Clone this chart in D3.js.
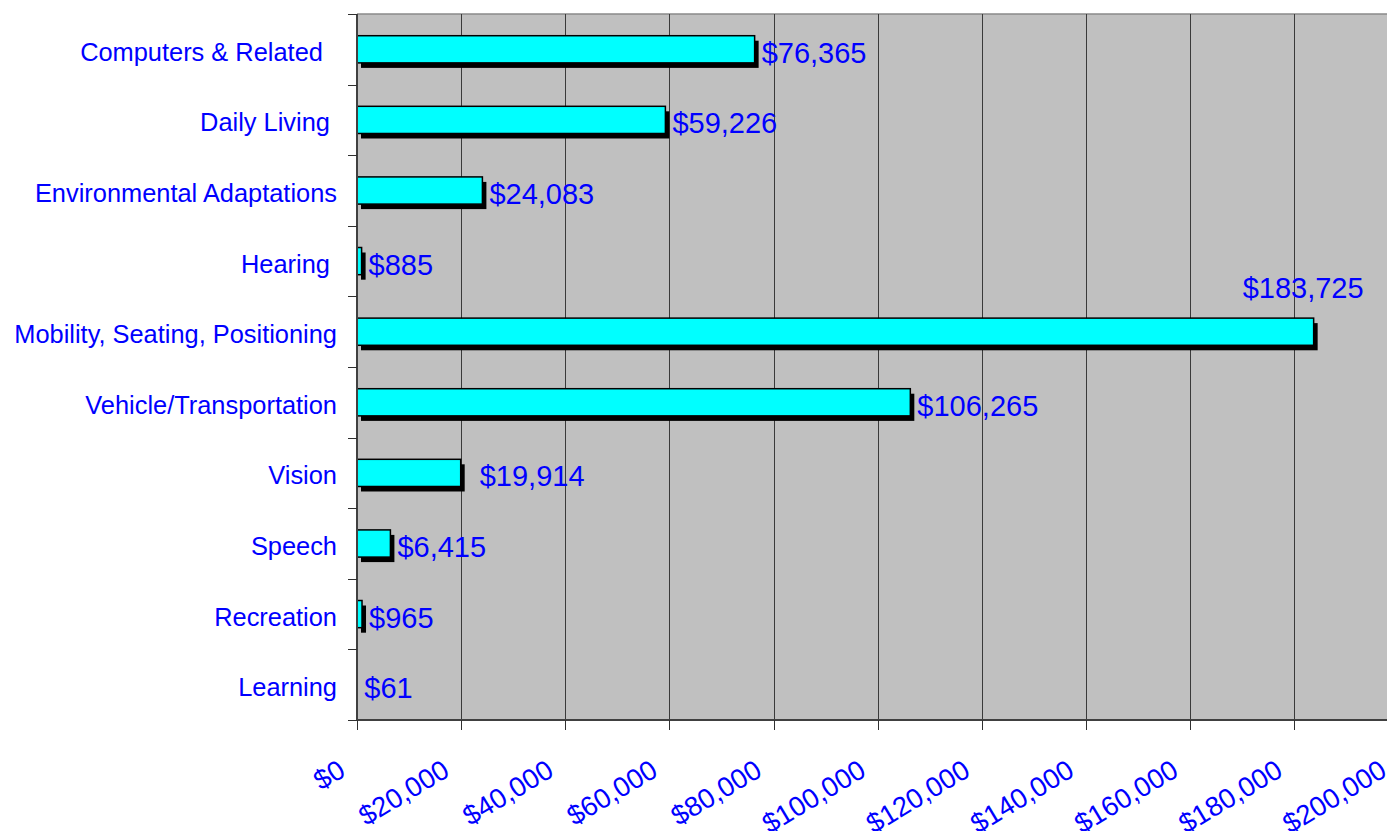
<!DOCTYPE html>
<html>
<head>
<meta charset="utf-8">
<script src="https://cdn.jsdelivr.net/npm/d3@7"></script>
<style>
  html, body { margin: 0; padding: 0; background: #ffffff; }
  svg { display: block; }
  text { font-family: "Liberation Sans", Arial, sans-serif; white-space: pre; }
</style>
</head>
<body>
<svg id="chart" width="1387" height="831"></svg>
<script>
// Category names (trailing spaces kept as typed in the source sheet)
const categories = [
  "Computers & Related  ",
  "Daily Living ",
  "Environmental Adaptations",
  "Hearing ",
  "Mobility, Seating, Positioning",
  "Vehicle/Transportation",
  "Vision",
  "Speech",
  "Recreation",
  "Learning"
];

// Spending per category, in dollars
const values = [76365, 59226, 24083, 885, 183725, 106265, 19914, 6415, 965, 61];

// Horizontal axis ticks
const tickValues = [0, 20000, 40000, 60000, 80000, 100000, 120000, 140000, 160000, 180000, 200000];

const svg = d3.select("#chart");

const plot = { left: 357, top: 14, bottom: 720, right: 1398.4 };
const blue = "#0000ff";
const money = v => "$" + d3.format(",")(v);

const x = d3.scaleLinear().domain([0, 200000]).range([plot.left, plot.right]);
const y = d3.scaleBand().domain(categories).range([plot.top, plot.bottom]).paddingInner(0).paddingOuter(0);
const barH = y.bandwidth() * 0.385;

// Plot background
svg.append("rect")
  .attr("x", plot.left).attr("y", plot.top)
  .attr("width", plot.right - plot.left).attr("height", plot.bottom - plot.top)
  .attr("fill", "#c0c0c0");

// Top border
svg.append("line")
  .attr("x1", plot.left).attr("x2", plot.right)
  .attr("y1", plot.top).attr("y2", plot.top)
  .attr("stroke", "#8a8a8a").attr("stroke-width", 1.5);

// Vertical gridlines
svg.append("g").selectAll("line")
  .data(tickValues.slice(1))
  .join("line")
  .attr("x1", d => Math.round(x(d)) + 0.5).attr("x2", d => Math.round(x(d)) + 0.5)
  .attr("y1", plot.top).attr("y2", plot.bottom)
  .attr("stroke", "#3a3a3a").attr("stroke-width", 1);

// Bars with drop shadow
const bars = svg.append("g");
const rows = categories.map((c, i) => ({ cat: c, value: values[i] }));

bars.selectAll("rect.shadow")
  .data(rows.filter(d => x(d.value) - x(0) >= 1))
  .join("rect")
  .attr("class", "shadow")
  .attr("x", d => x(0) + 4)
  .attr("y", d => y(d.cat) + (y.bandwidth() - barH) / 2 + 5)
  .attr("width", d => x(d.value) - x(0))
  .attr("height", barH)
  .attr("fill", "#000");

bars.selectAll("rect.bar")
  .data(rows.filter(d => x(d.value) - x(0) >= 1))
  .join("rect")
  .attr("class", "bar")
  .attr("x", x(0))
  .attr("y", d => y(d.cat) + (y.bandwidth() - barH) / 2)
  .attr("width", d => x(d.value) - x(0))
  .attr("height", barH)
  .attr("fill", "#00ffff")
  .attr("stroke", "#000")
  .attr("stroke-width", 1.5);

// Axes lines
svg.append("line")
  .attr("x1", plot.left).attr("x2", plot.left)
  .attr("y1", plot.top).attr("y2", plot.bottom + 1)
  .attr("stroke", "#404040").attr("stroke-width", 2);
svg.append("line")
  .attr("x1", plot.left - 1).attr("x2", plot.right)
  .attr("y1", plot.bottom).attr("y2", plot.bottom)
  .attr("stroke", "#404040").attr("stroke-width", 2);

// Left tick marks at category boundaries
const boundaries = categories.map(c => y(c)).concat([plot.bottom]);
svg.append("g").selectAll("line")
  .data(boundaries)
  .join("line")
  .attr("x1", plot.left - 9).attr("x2", plot.left)
  .attr("y1", d => Math.round(d) + 0.5).attr("y2", d => Math.round(d) + 0.5)
  .attr("stroke", "#303030").attr("stroke-width", 1);

// Bottom tick marks
svg.append("g").selectAll("line")
  .data(tickValues)
  .join("line")
  .attr("x1", d => Math.round(x(d)) + 0.5).attr("x2", d => Math.round(x(d)) + 0.5)
  .attr("y1", plot.bottom).attr("y2", plot.bottom + 10)
  .attr("stroke", "#303030").attr("stroke-width", 1);

// Category labels
svg.append("g").selectAll("text")
  .data(categories)
  .join("text")
  .attr("x", 337)
  .attr("y", d => y(d) + y.bandwidth() / 2 + 11.5)
  .attr("text-anchor", "end")
  .attr("font-size", 25.4)
  .attr("fill", blue)
  .text(d => d);

// Rotated tick labels
svg.append("g").selectAll("text")
  .data(tickValues)
  .join("text")
  .attr("transform", d => `translate(${x(d) - 10},775) rotate(-31)`)
  .attr("text-anchor", "end")
  .attr("font-size", 27.5)
  .attr("fill", blue)
  .text(money);

// Value labels; the widest one sits above its bar
const labelNudge = { "Vision": 12 };
svg.append("g").selectAll("text")
  .data(rows)
  .join("text")
  .attr("x", d => d.value > 150000 ? x(d.value) + 50 : x(d.value) + 7 + (labelNudge[d.cat] || 0))
  .attr("y", d => d.value > 150000 ? y(d.cat) + 2 : y(d.cat) + y.bandwidth() / 2 + 13.5)
  .attr("text-anchor", d => d.value > 150000 ? "end" : "start")
  .attr("font-size", 29)
  .attr("fill", blue)
  .text(d => money(d.value));
</script>
</body>
</html>
